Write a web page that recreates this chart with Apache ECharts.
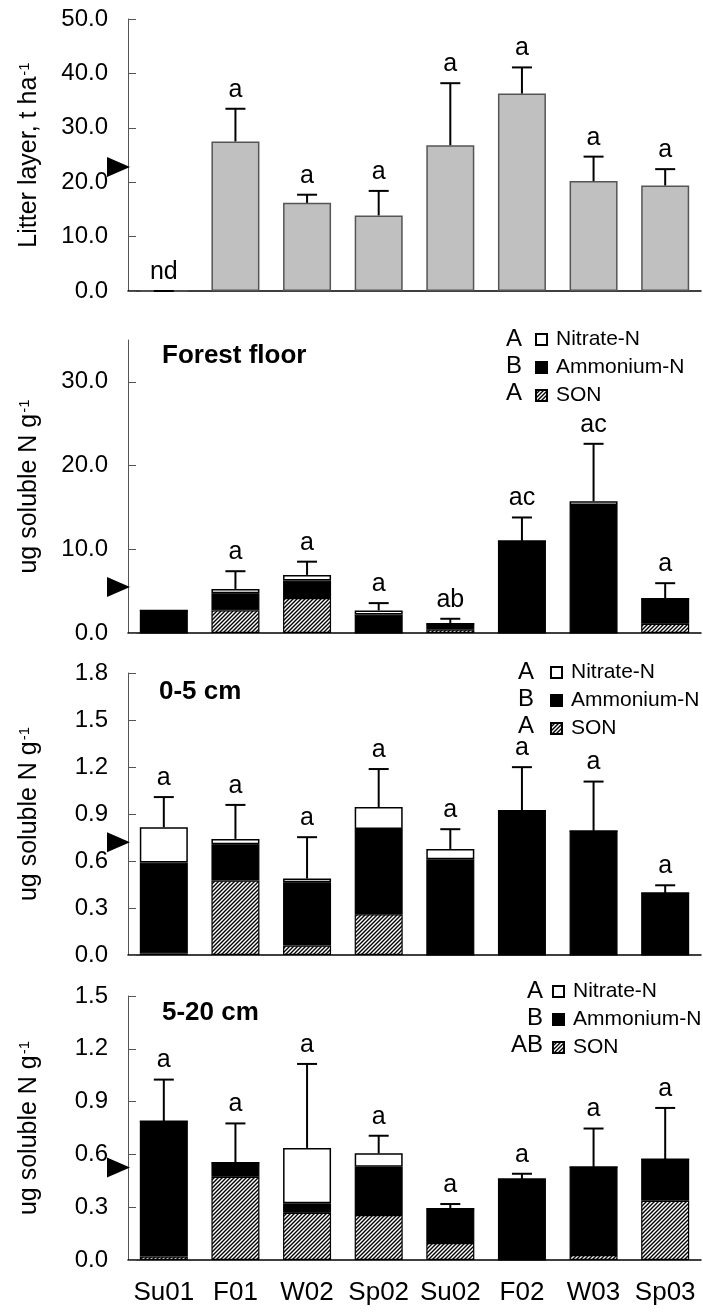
<!DOCTYPE html>
<html>
<head>
<meta charset="utf-8">
<script src="https://cdn.jsdelivr.net/npm/echarts@6/dist/echarts.min.js"></script>
<style>
html,body{margin:0;padding:0;background:#fff;}
#chart{width:703px;height:1312px;}
</style>
</head>
<body>
<div id="chart"></div>
<script>
// ---------- DATA ----------
const categories = ['Su01', 'F01', 'W02', 'Sp02', 'Su02', 'F02', 'W03', 'Sp03'];

// Panel 1: litter layer (t ha-1)
const litterMean   = [0, 27.5, 16.2, 13.9, 26.8, 36.3, 20.2, 19.4];
const litterErrTop = [0, 33.5, 17.7, 18.4, 38.2, 41.1, 24.7, 22.4];
const litterLetters = ['nd', 'a', 'a', 'a', 'a', 'a', 'a', 'a'];

// Panel 2: forest floor (ug soluble N g-1)
const ffSON    = [0, 2.7, 4.17, 0, 0.4, 0, 0, 1.1];
const ffNH4    = [2.7, 2.06, 2.09, 2.2, 0.7, 11.0, 15.3, 2.98];
const ffNO3    = [0, 0.5, 0.68, 0.5, 0, 0, 0.45, 0];
const ffErrTop = [null, 7.38, 8.52, 3.57, 1.7, 13.8, 22.6, 5.95];
const ffLetters = ['', 'a', 'a', 'a', 'ab', 'ac', 'ac', 'a'];

// Panel 3: 0-5 cm
const s05SON    = [0.01, 0.475, 0.06, 0.26, 0, 0, 0, 0];
const s05NH4    = [0.58, 0.232, 0.405, 0.545, 0.611, 0.92, 0.792, 0.396];
const s05NO3    = [0.226, 0.034, 0.023, 0.139, 0.066, 0, 0, 0];
const s05ErrTop = [1.008, 0.958, 0.752, 1.187, 0.803, 1.199, 1.107, 0.445];
const s05Letters = ['a', 'a', 'a', 'a', 'a', 'a', 'a', 'a'];

// Panel 4: 5-20 cm
const s520SON    = [0.02, 0.473, 0.268, 0.255, 0.096, 0, 0.028, 0.337];
const s520NH4    = [0.769, 0.079, 0.054, 0.275, 0.195, 0.46, 0.5, 0.236];
const s520NO3    = [0, 0, 0.315, 0.077, 0, 0, 0, 0];
const s520ErrTop = [1.025, 0.776, 1.114, 0.706, 0.318, 0.49, 0.747, 0.864];
const s520Letters = ['a', 'a', 'a', 'a', 'a', 'a', 'a', 'a'];

// Reference arrow marks on each y axis
const refMarks = [22.8, 5.5, 0.72, 0.526];

// Panel titles and legend significance letters
const panelTitles = ['', 'Forest floor', '0-5 cm', '5-20 cm'];
const legendNames = ['Nitrate-N', 'Ammonium-N', 'SON'];
const legendLetters = [null, ['A', 'B', 'A'], ['A', 'B', 'A'], ['A', 'B', 'AB']];

// Axis setup
const yMax = [50, 35, 1.8, 1.5];
const yInterval = [10, 10, 0.3, 0.3];
const yTicks2 = [0, 10, 20, 30];
const yNames = ['Litter layer, t ha', 'ug soluble N g', 'ug soluble N g', 'ug soluble N g'];

// ---------- STYLE / LAYOUT ----------
const FONT = '"Liberation Sans", Arial, Helvetica, sans-serif';
const grids = [
  {left: 128, right: 2, top: 19, height: 272},
  {left: 128, right: 2, top: 340, height: 293},
  {left: 128, right: 2, top: 673, height: 282},
  {left: 128, right: 2, top: 996, height: 264}
];
const titlePos = [null, [162, 356], [159, 692], [162, 1013]];
const legendPos = [null, {iconLeft: 535, top: 329, letterRight: 522},
                         {iconLeft: 550, top: 662, letterRight: 534},
                         {iconLeft: 552, top: 981, letterRight: 543}];

// hatch pattern
function makeHatch() {
  const s = 4;
  const c = document.createElement('canvas');
  c.width = s; c.height = s;
  const g = c.getContext('2d');
  g.fillStyle = '#fff';
  g.fillRect(0, 0, s, s);
  g.strokeStyle = '#000';
  g.lineWidth = 1.4;
  g.beginPath();
  g.moveTo(-1, s + 1); g.lineTo(s + 1, -1);
  g.moveTo(-1, 1); g.lineTo(1, -1);
  g.moveTo(s - 1, s + 1); g.lineTo(s + 1, s - 1);
  g.stroke();
  return c;
}
const hatch = {image: makeHatch(), repeat: 'repeat'};

const chart = echarts.init(document.getElementById('chart'), null, {renderer: 'canvas'});

const xAxes = grids.map((g, i) => ({
  type: 'category',
  gridIndex: i,
  data: categories,
  boundaryGap: true,
  axisLine: {lineStyle: {color: '#000', width: 1.5}},
  axisTick: {show: false},
  axisLabel: {
    show: i === 3, interval: 0, fontSize: 26, color: '#000', fontFamily: FONT, margin: 20
  }
}));

const yAxes = grids.map((g, i) => {
  const ax = {
    type: 'value',
    gridIndex: i,
    min: 0,
    max: yMax[i],
    interval: yInterval[i],
    splitLine: {show: false},
    axisLine: {show: true, lineStyle: {color: '#555', width: 1}},
    axisTick: {show: true, inside: true, length: 8, lineStyle: {color: '#555', width: 1}},
    axisLabel: {
      fontSize: 24, color: '#000', fontFamily: FONT, margin: 20,
      formatter: v => v.toFixed(1)
    },
    name: '{t|' + yNames[i] + '}{s|-1}',
    nameLocation: 'middle',
    nameGap: 86,
    nameTextStyle: {
      rich: {
        t: {fontSize: 25, color: '#000', fontFamily: FONT},
        s: {fontSize: 15, color: '#000', fontFamily: FONT, verticalAlign: 'top', padding: [0, 0, 0, 1]}
      }
    }
  };
  if (i === 1) {
    ax.axisLabel.customValues = yTicks2;
    ax.axisTick.customValues = yTicks2;
  }
  return ax;
});

function errSeries(panel, totals, errTop, letters) {
  return {
    type: 'custom',
    xAxisIndex: panel, yAxisIndex: panel,
    z: 5,
    silent: true,
    clip: false,
    encode: {x: 0, y: [1, 2]},
    data: categories.map((c, i) => [i, totals[i], errTop[i] == null ? '-' : errTop[i]]),
    renderItem: function (params, api) {
      const idx = params.dataIndex;
      const t = api.value(2);
      if (isNaN(t)) return null;
      const p0 = api.coord([api.value(0), api.value(1)]);
      const p1 = api.coord([api.value(0), t]);
      const children = [
        {type: 'line', shape: {x1: p0[0], y1: p0[1], x2: p1[0], y2: p1[1]}, style: {stroke: '#000', lineWidth: 2}},
        {type: 'line', shape: {x1: p1[0] - 10, y1: p1[1], x2: p1[0] + 10, y2: p1[1]}, style: {stroke: '#000', lineWidth: 2}}
      ];
      if (letters[idx]) {
        children.push({
          type: 'text', x: p1[0], y: p1[1] - 19,
          style: {text: letters[idx], fontSize: 25, fontFamily: FONT, fill: '#000', align: 'center', verticalAlign: 'middle'}
        });
      }
      return {type: 'group', children: children};
    }
  };
}

function arrowSeries(panel, val) {
  return {
    type: 'custom',
    xAxisIndex: panel, yAxisIndex: panel,
    z: 6, silent: true, clip: false,
    encode: {x: 0, y: 1},
    data: [[0, val]],
    renderItem: function (params, api) {
      const y = api.coord([0, api.value(1)])[1];
      const x = params.coordSys.x;
      return {
        type: 'polygon',
        shape: {points: [[x - 21, y - 10], [x + 2, y], [x - 21, y + 10]]},
        style: {fill: '#000'}
      };
    }
  };
}

function sum3(a, b, c) { return a.map((v, i) => v + b[i] + c[i]); }

const series = [];
// Panel 1
series.push({
  type: 'bar', name: 'Litter layer', xAxisIndex: 0, yAxisIndex: 0,
  data: litterMean, barWidth: 48,
  itemStyle: {color: '#c0c0c0', borderColor: '#555', borderWidth: 1.5}
});
series.push(errSeries(0, litterMean, litterErrTop, litterLetters));
series.push(arrowSeries(0, refMarks[0]));

const stacks = [
  [ffSON, ffNH4, ffNO3, ffErrTop, ffLetters],
  [s05SON, s05NH4, s05NO3, s05ErrTop, s05Letters],
  [s520SON, s520NH4, s520NO3, s520ErrTop, s520Letters]
];
stacks.forEach((st, k) => {
  const p = k + 1;
  const [son, nh4, no3, err, let_] = st;
  series.push({type: 'bar', name: 'SON', stack: 's' + p, xAxisIndex: p, yAxisIndex: p, data: son, barWidth: 48,
    itemStyle: {color: hatch, borderColor: '#000', borderWidth: 1.2}});
  series.push({type: 'bar', name: 'Ammonium-N', stack: 's' + p, xAxisIndex: p, yAxisIndex: p, data: nh4, barWidth: 48,
    itemStyle: {color: '#000', borderColor: '#000', borderWidth: 1.2}});
  series.push({type: 'bar', name: 'Nitrate-N', stack: 's' + p, xAxisIndex: p, yAxisIndex: p, data: no3, barWidth: 48,
    itemStyle: {color: '#fff', borderColor: '#000', borderWidth: 1.5}});
  series.push(errSeries(p, sum3(son, nh4, no3), err, let_));
  series.push(arrowSeries(p, refMarks[p]));
});

const legends = [1, 2, 3].map(p => ({
  orient: 'vertical',
  left: legendPos[p].iconLeft,
  top: legendPos[p].top,
  padding: 0,
  itemWidth: 11, itemHeight: 11, itemGap: 7,
  icon: 'rect',
  selectedMode: false,
  data: legendNames,
  textStyle: {fontSize: 21, lineHeight: 20, color: '#000', fontFamily: FONT, padding: [0, 0, 0, 4]}
}));

const graphics = [];
[1, 2, 3].forEach(p => {
  graphics.push({
    type: 'text', x: titlePos[p][0], y: titlePos[p][1],
    style: {text: panelTitles[p], fontSize: 26, fontWeight: 'bold', fontFamily: FONT, fill: '#000', verticalAlign: 'middle'}
  });
  legendLetters[p].forEach((L, r) => {
    graphics.push({
      type: 'text', x: legendPos[p].letterRight, y: legendPos[p].top + 10 + r * 27,
      style: {text: L, fontSize: 24, fontFamily: FONT, fill: '#000', align: 'right', verticalAlign: 'middle'}
    });
  });
});

chart.setOption({
  animation: false,
  backgroundColor: '#fff',
  grid: grids,
  xAxis: xAxes,
  yAxis: yAxes,
  legend: legends,
  series: series,
  graphic: graphics
});
</script>
</body>
</html>
